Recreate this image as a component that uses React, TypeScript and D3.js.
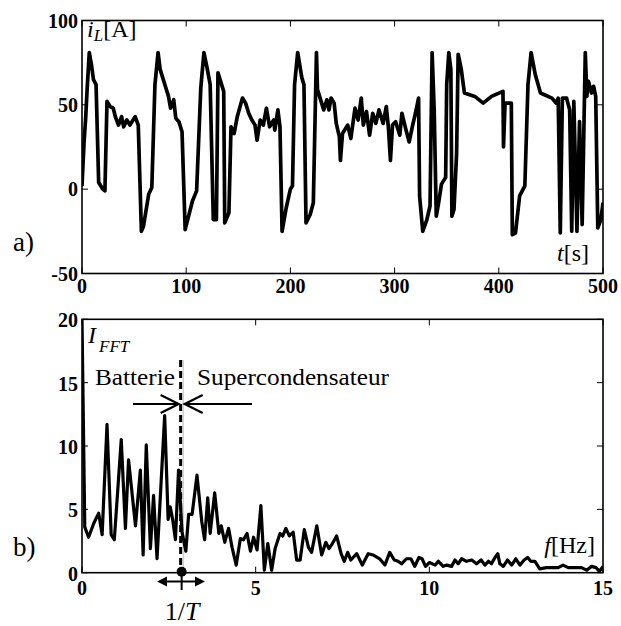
import React from 'react';
import { scaleLinear, line } from 'd3';

// current profile, panel a)
const timeS = [
  0, 2, 3.5, 5, 7, 9, 11, 13.5, 16, 20, 22, 24, 27, 30, 32, 35, 38, 40, 43, 46, 49, 51, 54,
  57, 59, 64, 67, 70, 73, 75, 80, 83, 85, 88, 90, 93, 96, 99, 106, 110, 114, 117, 120, 123,
  126, 129, 130.5, 136, 137, 141, 143, 146, 149, 154, 157, 160, 163, 166, 168, 171, 174, 177,
  180, 184, 185, 188, 190, 192, 196, 200, 202, 204, 207, 211, 213, 215, 219, 222, 225, 226,
  228, 232, 235, 237, 239, 242, 244, 247, 248, 250, 255, 258, 262, 265, 268, 270, 273, 276,
  279, 282, 285, 289, 292, 294, 296, 298, 301, 305, 307, 311, 314, 317, 320, 323, 324, 327,
  331, 334, 336, 338, 340, 342, 345, 349, 350, 352, 354, 355, 357, 359.5, 361, 364, 367, 377,
  385, 393, 404, 404.5, 406, 412, 413, 416, 420, 425, 428, 431, 435, 440, 451, 455, 457, 459,
  461, 465, 468, 470, 472, 475, 477.5, 480, 483, 484.5, 486, 489, 491, 493, 495, 498, 500,
];
const currentA = [
  2, 28, 42, 60, 81, 74, 65, 62, 4, 0, -1, 52, 49, 48, 43, 38, 43, 37, 41, 38, 41, 43, 38,
  -25, -22, -3, 1, 62, 81, 71, 61, 55, 48, 53, 42, 40, 34, -24, -7, -1, 60, 81, 72, 62,
  -18, -18, 69, 58, -20, -14, 37, 33, 43, 54, 51, 45, 41, 38, 29, 41, 38, 48,
  37, 41, 35, 47, 37, -25, -11, 0, 2, 62, 81, 66, 62, -20, -15, -8, 81, 59,
  55, 47, 53, 47, 54, 51, 39, 31, 17, 33, 38, 30, 48, 41, 54, 38, 46, 32,
  45, 39, 47, 39, 49, 37, 17, 38, 40, 32, 45, 35, 28, 37, 45, 54, -4, -25,
  -18, -10, 81, 47, -16, -9, 3, 7, 62, 81, 71, -16, -12, 21, 80, 71, 57, 55,
  51, 55, 58, 25, 51, 51, -27, -26, -4, 2, 62, 81, 68, 57, 54, 51, 54, -26,
  54, 54, 47, -25, 52, -25, 40, -21, 81, 55, 64, 57, 61, 55, -23, -18, -8,
];

// spectrum, panel b)
const freqHz = [
  0, 0.08, 0.19, 0.34, 0.48, 0.58, 0.72, 0.84, 0.93, 1.13, 1.25, 1.34, 1.54, 1.68, 1.76, 1.85,
  1.97, 2.06, 2.16, 2.38, 2.48, 2.54, 2.61, 2.69, 2.78, 2.88, 2.99, 3.07, 3.17, 3.31, 3.45,
  3.53, 3.62, 3.69, 3.82, 3.94, 4.01, 4.11, 4.22, 4.32, 4.44, 4.56, 4.65, 4.75, 4.85, 4.94,
  5.04, 5.15, 5.25, 5.35, 5.46, 5.56, 5.7, 5.78, 5.87, 5.97, 6.08, 6.18, 6.28, 6.4, 6.52,
  6.61, 6.76, 6.9, 7.02, 7.11, 7.21, 7.33, 7.46, 7.55, 7.65, 7.74, 7.91, 8.07, 8.24, 8.38,
  8.57, 8.72, 8.86, 8.99, 9.1, 9.2, 9.34, 9.47, 9.58, 9.7, 9.79, 9.89, 10.0, 10.17, 10.26,
  10.4, 10.5, 10.64, 10.74, 10.83, 10.93, 11.07, 11.22, 11.36, 11.49, 11.6, 11.7, 11.79,
  11.89, 11.97, 12.03, 12.13, 12.25, 12.37, 12.49, 12.61, 12.73, 12.83, 12.92, 13.04, 13.18,
  13.37, 13.56, 13.71, 13.85, 14.0, 14.19, 14.38, 14.53, 14.67, 14.8, 14.9, 15.0,
];
const fftAmp = [
  20, 3.6, 2.8, 3.9, 4.7, 3.0, 11.7, 3.0, 2.6, 10.5, 3.5, 8.9, 3.7, 8.1, 1.4, 10.1,
  1.9, 6.1, 1.1, 12.4, 4.2, 5.2, 4.2, 2.6, 8.1, 3.2, 1.7, 4.6, 4.6, 7.7, 4.0,
  2.6, 5.9, 3.1, 6.3, 3.1, 3.7, 2.4, 3.5, 2.0, 0.6, 2.7, 2.6, 3.1, 1.7, 2.8,
  1.8, 5.3, 0.2, 2.3, 0.2, 1.9, 3.1, 2.9, 3.5, 2.9, 3.2, 1.0, 1.0, 3.4, 2.0,
  1.6, 3.7, 1.4, 2.4, 1.9, 2.3, 2.9, 1.5, 0.9, 1.6, 1.0, 1.5, 0.6, 1.5, 1.4,
  1.1, 0.6, 1.6, 1.0, 0.9, 0.7, 1.1, 1.1, 0.5, 1.2, 1.1, 0.5, 0.8, 0.6, 0.9,
  0.5, 0.6, 0.5, 1.0, 0.7, 1.1, 0.9, 1.0, 0.7, 1.0, 0.6, 0.9, 0.7,
  1.2, 1.5, 0.7, 0.5, 1.0, 0.6, 1.1, 0.6, 1.0, 1.2, 0.9, 0.9, 0.3,
  0.4, 0.4, 0.4, 0.6, 0.4, 0.4, 0.4, 0.2, 0.5, 0.4, 0.1, 0.5,
];

const timeTicks = [0, 100, 200, 300, 400, 500];
const currentTicks = [-50, 0, 50, 100];
const freqTicks = [0, 5, 10, 15];
const ampTicks = [0, 5, 10, 15, 20];
const cutoffHz = 2.84; // 1/T

const W = 621;
const H = 626;
const left = 82;
const right = 603;
const tickLen = 6;
const serifStyle = { fontFamily: "'Liberation Serif', 'Times New Roman', Times, serif" };

const Frame = ({ x, y, xTicks, yTicks, clipId }) => {
  const [x0, x1] = x.range();
  const [y0, y1] = y.range();
  return (
    <g>
      <defs>
        <clipPath id={clipId}>
          <rect x={x0} y={y1} width={x1 - x0} height={y0 - y1} />
        </clipPath>
      </defs>
      {xTicks.map(t => (
        <g key={'x' + t} stroke="#000" strokeWidth={1}>
          <line x1={x(t)} x2={x(t)} y1={y0} y2={y0 - tickLen} />
          <line x1={x(t)} x2={x(t)} y1={y1} y2={y1 + tickLen} />
        </g>
      ))}
      {yTicks.map(t => (
        <g key={'y' + t} stroke="#000" strokeWidth={1}>
          <line x1={x0} x2={x0 + tickLen} y1={y(t)} y2={y(t)} />
          <line x1={x1} x2={x1 - tickLen} y1={y(t)} y2={y(t)} />
        </g>
      ))}
      <rect x={x0} y={y1} width={x1 - x0} height={y0 - y1} fill="none" stroke="#000" strokeWidth={1.6} />
    </g>
  );
};

export default function App() {
  // scales for both panels
  const xTime = scaleLinear([0, 500], [left, right]);
  const yCurrent = scaleLinear([-50, 100], [273.5, 20.5]);
  const xFreq = scaleLinear([0, 15], [left, right]);
  const yAmp = scaleLinear([0, 20], [572.7, 319.3]);

  const currentLine = line<number>()
    .x((d, i) => xTime(timeS[i]))
    .y(d => yCurrent(d));
  const fftLine = line<number>()
    .x((d, i) => xFreq(freqHz[i]))
    .y(d => yAmp(d));

  const cx = xFreq(cutoffHz);
  const arrowY = 404;
  const baseY = yAmp(0);

  return (
    <svg width={W} height={H} style={{ position: 'absolute', left: 0, top: 0, background: '#fff', ...serifStyle }}>
      <rect width={W} height={H} fill="#fff" />

      {/* panel a */}
      <path d={currentLine(currentA)} fill="none" stroke="#000" strokeWidth={3.7}
        strokeLinejoin="round" clipPath="url(#clipA)" />
      <Frame x={xTime} y={yCurrent} xTicks={timeTicks} yTicks={currentTicks} clipId="clipA" />
      <g fontWeight="bold" fontSize={20} style={serifStyle}>
        {timeTicks.map(t => (
          <text key={t} x={xTime(t)} y={293} textAnchor="middle">{t}</text>
        ))}
        {currentTicks.map(t => (
          <text key={t} x={78} y={yCurrent(t) + 7} textAnchor="end">{t}</text>
        ))}
      </g>
      <text x={87} y={37} fontSize={24} style={serifStyle}>
        <tspan fontStyle="italic">i</tspan>
        <tspan fontStyle="italic" fontSize={17} dy={4}>L</tspan>
        <tspan dy={-4}>[A]</tspan>
      </text>
      <text x={589} y={261} fontSize={24} textAnchor="end" style={serifStyle}>
        <tspan fontStyle="italic">t</tspan>[s]
      </text>
      <text x={13} y={251} fontSize={27} style={serifStyle}>a)</text>

      {/* panel b */}
      <line x1={cx + 2.5} x2={cx + 2.5} y1={360} y2={baseY} stroke="#bbb" strokeWidth={1} />
      <path d={fftLine(fftAmp)} fill="none" stroke="#000" strokeWidth={3.2}
        strokeLinejoin="round" clipPath="url(#clipB)" />
      <line x1={cx} x2={cx} y1={360} y2={baseY} stroke="#000" strokeWidth={3}
        strokeDasharray="7 4" />
      <Frame x={xFreq} y={yAmp} xTicks={freqTicks} yTicks={ampTicks} clipId="clipB" />
      <g fontWeight="bold" fontSize={20} style={serifStyle}>
        {freqTicks.map(t => (
          <text key={t} x={xFreq(t)} y={595} textAnchor="middle">{t}</text>
        ))}
        {ampTicks.map(t => (
          <text key={t} x={78} y={yAmp(t) + 8} textAnchor="end">{t}</text>
        ))}
      </g>
      <text x={88} y={343} fontSize={24} style={serifStyle}>
        <tspan fontStyle="italic">I</tspan>
        <tspan fontStyle="italic" fontSize={17} dx={3} dy={9}>FFT</tspan>
      </text>
      <text x={595} y={553} fontSize={24} textAnchor="end" style={serifStyle}>
        <tspan fontStyle="italic">f</tspan>[Hz]
      </text>
      <text x={13} y={556} fontSize={27} style={serifStyle}>b)</text>

      <text x={95} y={385} fontSize={23.5} textLength={80} lengthAdjust="spacingAndGlyphs"
        style={serifStyle}>Batterie</text>
      <text x={197} y={385} fontSize={23.5} textLength={192} lengthAdjust="spacingAndGlyphs"
        style={serifStyle}>Supercondensateur</text>

      {/* boundary arrows */}
      <g stroke="#000" strokeWidth={2.2} fill="none">
        <line x1={133} x2={cx - 2} y1={arrowY} y2={arrowY} />
        <polyline points={`${cx - 20},${arrowY - 9} ${cx - 2},${arrowY} ${cx - 20},${arrowY + 9}`} />
        <line x1={252} x2={cx + 4} y1={arrowY} y2={arrowY} />
        <polyline points={`${cx + 22},${arrowY - 9} ${cx + 4},${arrowY} ${cx + 22},${arrowY + 9}`} />
      </g>

      {/* 1/T marker */}
      <circle cx={cx + 1} cy={baseY - 1} r={5} fill="#000" />
      <g stroke="#000" strokeWidth={2}>
        <line x1={cx + 1} x2={cx + 1} y1={baseY} y2={590} />
        <line x1={162} x2={200} y1={581.5} y2={581.5} />
      </g>
      <path d={`M157,581.5 L167,576.5 L167,586.5 Z M205,581.5 L195,576.5 L195,586.5 Z`} fill="#000" />
      <text x={182} y={620} fontSize={26} textAnchor="middle" style={serifStyle}>
        1/<tspan fontStyle="italic">T</tspan>
      </text>
    </svg>
  );
}
